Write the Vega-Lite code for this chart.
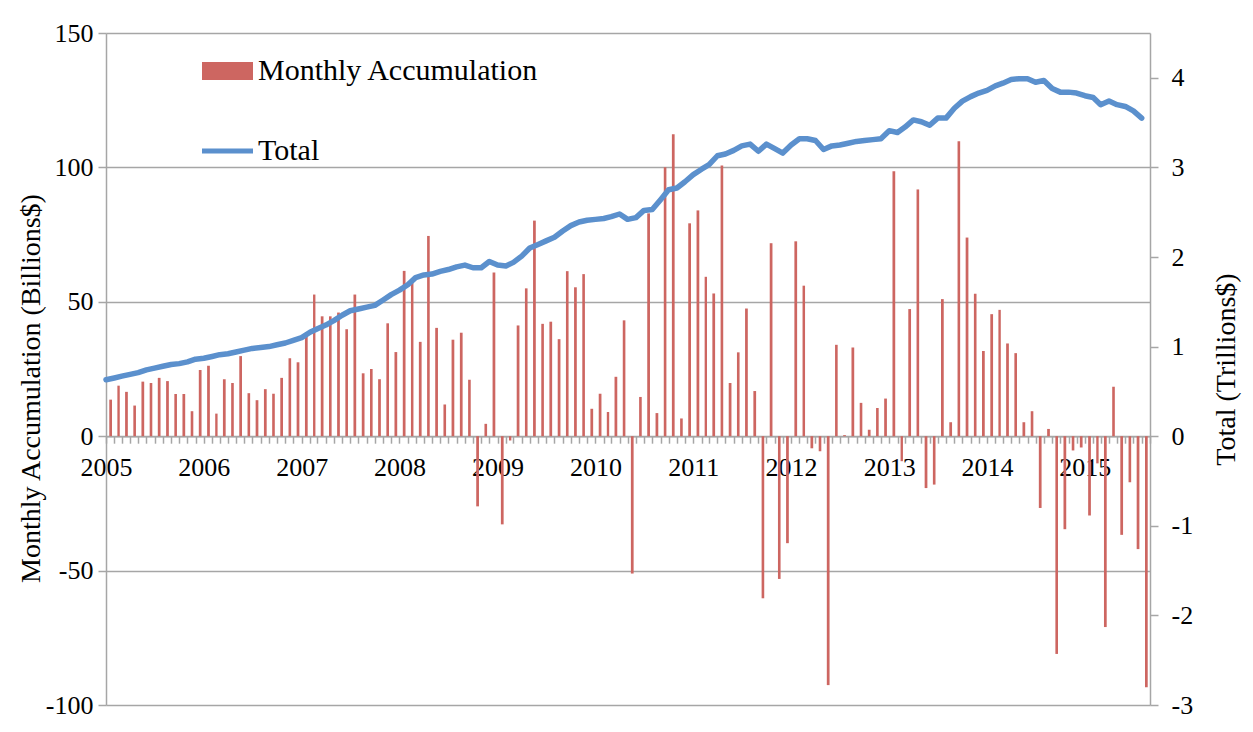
{
  "$schema": "https://vega.github.io/schema/vega-lite/v6.json",
  "width": 1044,
  "height": 672,
  "autosize": "none",
  "padding": {"left": 106, "top": 33, "right": 103, "bottom": 27},
  "background": "white",
  "config": {
    "font": "Liberation Serif",
    "view": {"stroke": null},
    "axis": {"labelFont": "Liberation Serif", "titleFont": "Liberation Serif", "labelColor": "black", "titleColor": "black", "titleFontWeight": "normal"}
  },
  "data": {"values": [
    {"date":"2005-01-01","monthly":13.6,"total":0.63},{"date":"2005-02-01","monthly":18.8,"total":0.65},{"date":"2005-03-01","monthly":16.5,"total":0.67},{"date":"2005-04-01","monthly":11.4,"total":0.69},{"date":"2005-05-01","monthly":20.3,"total":0.71},{"date":"2005-06-01","monthly":19.8,"total":0.74},{"date":"2005-07-01","monthly":21.7,"total":0.76},{"date":"2005-08-01","monthly":20.5,"total":0.78},{"date":"2005-09-01","monthly":15.7,"total":0.80},{"date":"2005-10-01","monthly":15.7,"total":0.81},{"date":"2005-11-01","monthly":9.3,"total":0.83},{"date":"2005-12-01","monthly":24.6,"total":0.86},
    {"date":"2006-01-01","monthly":26.2,"total":0.87},{"date":"2006-02-01","monthly":8.4,"total":0.89},{"date":"2006-03-01","monthly":21.2,"total":0.91},{"date":"2006-04-01","monthly":19.8,"total":0.92},{"date":"2006-05-01","monthly":29.8,"total":0.94},{"date":"2006-06-01","monthly":16.0,"total":0.96},{"date":"2006-07-01","monthly":13.4,"total":0.98},{"date":"2006-08-01","monthly":17.5,"total":0.99},{"date":"2006-09-01","monthly":15.8,"total":1.00},{"date":"2006-10-01","monthly":21.7,"total":1.02},{"date":"2006-11-01","monthly":29.0,"total":1.04},{"date":"2006-12-01","monthly":27.5,"total":1.07},
    {"date":"2007-01-01","monthly":38.3,"total":1.10},{"date":"2007-02-01","monthly":52.7,"total":1.16},{"date":"2007-03-01","monthly":44.6,"total":1.20},{"date":"2007-04-01","monthly":44.6,"total":1.24},{"date":"2007-05-01","monthly":46.0,"total":1.29},{"date":"2007-06-01","monthly":39.8,"total":1.35},{"date":"2007-07-01","monthly":52.7,"total":1.40},{"date":"2007-08-01","monthly":23.4,"total":1.42},{"date":"2007-09-01","monthly":25.0,"total":1.44},{"date":"2007-10-01","monthly":21.2,"total":1.46},{"date":"2007-11-01","monthly":42.0,"total":1.52},{"date":"2007-12-01","monthly":31.3,"total":1.58},
    {"date":"2008-01-01","monthly":61.5,"total":1.63},{"date":"2008-02-01","monthly":57.2,"total":1.69},{"date":"2008-03-01","monthly":35.1,"total":1.77},{"date":"2008-04-01","monthly":74.5,"total":1.80},{"date":"2008-05-01","monthly":40.3,"total":1.81},{"date":"2008-06-01","monthly":11.8,"total":1.84},{"date":"2008-07-01","monthly":35.9,"total":1.86},{"date":"2008-08-01","monthly":38.5,"total":1.89},{"date":"2008-09-01","monthly":21.0,"total":1.91},{"date":"2008-10-01","monthly":-26.1,"total":1.88},{"date":"2008-11-01","monthly":4.6,"total":1.88},{"date":"2008-12-01","monthly":60.9,"total":1.95},
    {"date":"2009-01-01","monthly":-32.8,"total":1.91},{"date":"2009-02-01","monthly":-1.6,"total":1.90},{"date":"2009-03-01","monthly":41.2,"total":1.94},{"date":"2009-04-01","monthly":55.0,"total":2.01},{"date":"2009-05-01","monthly":80.2,"total":2.10},{"date":"2009-06-01","monthly":41.8,"total":2.14},{"date":"2009-07-01","monthly":42.6,"total":2.18},{"date":"2009-08-01","monthly":36.1,"total":2.22},{"date":"2009-09-01","monthly":61.4,"total":2.29},{"date":"2009-10-01","monthly":55.4,"total":2.35},{"date":"2009-11-01","monthly":60.3,"total":2.39},{"date":"2009-12-01","monthly":10.2,"total":2.41},
    {"date":"2010-01-01","monthly":15.8,"total":2.42},{"date":"2010-02-01","monthly":9.0,"total":2.43},{"date":"2010-03-01","monthly":22.1,"total":2.45},{"date":"2010-04-01","monthly":43.1,"total":2.48},{"date":"2010-05-01","monthly":-51.1,"total":2.42},{"date":"2010-06-01","monthly":14.6,"total":2.44},{"date":"2010-07-01","monthly":82.9,"total":2.52},{"date":"2010-08-01","monthly":8.6,"total":2.53},{"date":"2010-09-01","monthly":100.1,"total":2.64},{"date":"2010-10-01","monthly":112.3,"total":2.75},{"date":"2010-11-01","monthly":6.6,"total":2.77},{"date":"2010-12-01","monthly":79.2,"total":2.84},
    {"date":"2011-01-01","monthly":84.0,"total":2.92},{"date":"2011-02-01","monthly":59.3,"total":2.98},{"date":"2011-03-01","monthly":53.1,"total":3.03},{"date":"2011-04-01","monthly":100.7,"total":3.13},{"date":"2011-05-01","monthly":19.8,"total":3.15},{"date":"2011-06-01","monthly":31.2,"total":3.19},{"date":"2011-07-01","monthly":47.5,"total":3.24},{"date":"2011-08-01","monthly":16.8,"total":3.26},{"date":"2011-09-01","monthly":-60.3,"total":3.18},{"date":"2011-10-01","monthly":71.8,"total":3.26},{"date":"2011-11-01","monthly":-53.1,"total":3.21},{"date":"2011-12-01","monthly":-39.8,"total":3.16},
    {"date":"2012-01-01","monthly":72.5,"total":3.25},{"date":"2012-02-01","monthly":56.0,"total":3.32},{"date":"2012-03-01","monthly":-4.5,"total":3.32},{"date":"2012-04-01","monthly":-5.6,"total":3.30},{"date":"2012-05-01","monthly":-92.6,"total":3.20},{"date":"2012-06-01","monthly":34.0,"total":3.24},{"date":"2012-07-01","monthly":0.4,"total":3.25},{"date":"2012-08-01","monthly":33.0,"total":3.27},{"date":"2012-09-01","monthly":12.4,"total":3.29},{"date":"2012-10-01","monthly":2.4,"total":3.30},{"date":"2012-11-01","monthly":10.5,"total":3.31},{"date":"2012-12-01","monthly":14.0,"total":3.32},
    {"date":"2013-01-01","monthly":98.6,"total":3.41},{"date":"2013-02-01","monthly":-9.3,"total":3.39},{"date":"2013-03-01","monthly":47.3,"total":3.45},{"date":"2013-04-01","monthly":91.8,"total":3.53},{"date":"2013-05-01","monthly":-19.3,"total":3.51},{"date":"2013-06-01","monthly":-18.0,"total":3.47},{"date":"2013-07-01","monthly":51.0,"total":3.55},{"date":"2013-08-01","monthly":5.2,"total":3.55},{"date":"2013-09-01","monthly":109.7,"total":3.66},{"date":"2013-10-01","monthly":73.9,"total":3.74},{"date":"2013-11-01","monthly":53.0,"total":3.79},{"date":"2013-12-01","monthly":31.7,"total":3.83},
    {"date":"2014-01-01","monthly":45.4,"total":3.86},{"date":"2014-02-01","monthly":47.0,"total":3.91},{"date":"2014-03-01","monthly":34.5,"total":3.94},{"date":"2014-04-01","monthly":30.9,"total":3.98},{"date":"2014-05-01","monthly":5.2,"total":3.99},{"date":"2014-06-01","monthly":9.3,"total":3.99},{"date":"2014-07-01","monthly":-26.7,"total":3.95},{"date":"2014-08-01","monthly":2.7,"total":3.97},{"date":"2014-09-01","monthly":-81.0,"total":3.88},{"date":"2014-10-01","monthly":-34.6,"total":3.84},{"date":"2014-11-01","monthly":-5.3,"total":3.84},{"date":"2014-12-01","monthly":-4.2,"total":3.83},
    {"date":"2015-01-01","monthly":-29.5,"total":3.80},{"date":"2015-02-01","monthly":-10.1,"total":3.78},{"date":"2015-03-01","monthly":-71.0,"total":3.70},{"date":"2015-04-01","monthly":18.4,"total":3.74},{"date":"2015-05-01","monthly":-36.7,"total":3.70},{"date":"2015-06-01","monthly":-17.1,"total":3.68},{"date":"2015-07-01","monthly":-42.0,"total":3.63},{"date":"2015-08-01","monthly":-93.4,"total":3.55}
  ]},
  "encoding": {
    "x": {
      "field": "date", "timeUnit": "utcyearmonth", "type": "temporal",
      "scale": {"domain": [{"year": 2005, "month": 1, "date": 1, "utc": true}, {"year": 2015, "month": 9, "date": 1, "utc": true}], "nice": false},
      "axis": {
        "orient": "bottom", "offset": -268.8, "title": null, "grid": false,
        "tickCount": {"interval": "month", "step": 1},
        "labelExpr": "utcmonth(datum.value) == 0 ? utcFormat(datum.value, '%Y') : ''",
        "labelOverlap": false, "labelFlush": false, "labelBound": false,
        "labelFontSize": 26, "labelPadding": 11, "labelAngle": 0,
        "domainColor": "#a6a6a6", "domainWidth": 1.5,
        "tickColor": "#a6a6a6", "tickWidth": 1.5, "tickSize": 7
      }
    }
  },
  "layer": [
    {
      "mark": {"type": "bar", "width": {"band": 0.45}},
      "encoding": {
        "y": {
          "field": "monthly", "type": "quantitative",
          "scale": {"domain": [-100, 150], "nice": false, "zero": false},
          "axis": {
            "values": [-100, -50, 0, 50, 100, 150],
            "labelExpr": "'' + datum.value",
            "title": "Monthly Accumulation (Billions$)",
            "titleFontSize": 28, "titlePadding": 0, "titleY": 355,
            "labelFontSize": 26, "labelPadding": 5,
            "grid": true, "gridColor": "#a6a6a6", "gridWidth": 1.5,
            "domainColor": "#a6a6a6", "domainWidth": 1.5,
            "tickColor": "#a6a6a6", "tickWidth": 1.5, "tickSize": 8
          }
        },
        "color": {
          "datum": "Monthly Accumulation", "type": "nominal",
          "scale": {"domain": ["Monthly Accumulation", "Total"], "range": ["#cd6661", "#5b90cd"]},
          "legend": {
            "orient": "none", "legendX": 96, "legendY": 12.5, "title": null,
            "symbolSize": 2601, "labelFontSize": 30, "labelFont": "Liberation Serif", "labelColor": "black",
            "labelLimit": 0, "labelOffset": 5, "rowPadding": 39, "direction": "vertical",
            "encode": {"symbols": {"update": {
              "shape": {"signal": "datum.value == 'Total' ? 'M-1,-0.1L1,-0.1L1,0.1L-1,0.1Z' : 'M-1,-0.353L1,-0.353L1,0.353L-1,0.353Z'"},
              "fill": {"signal": "datum.value == 'Total' ? '#5b90cd' : '#cd6661'"},
              "stroke": {"value": "transparent"},
              "strokeWidth": {"value": 0},
              "opacity": {"value": 1}
            }}}
          }
        }
      }
    },
    {
      "mark": {"type": "line", "strokeWidth": 5.5, "timeUnitBandPosition": 0.5, "strokeJoin": "round", "strokeCap": "round"},
      "encoding": {
        "y": {
          "field": "total", "type": "quantitative",
          "scale": {"domain": [-3, 4.5], "nice": false, "zero": false},
          "axis": {
            "orient": "right",
            "values": [-3, -2, -1, 0, 1, 2, 3, 4],
            "labelExpr": "'' + datum.value",
            "title": "Total (Trillions$)",
            "titleFontSize": 28, "titlePadding": 20, "titleAngle": 270, "titleBaseline": "top",
            "labelFontSize": 26, "labelPadding": 13,
            "grid": false,
            "domainColor": "#a6a6a6", "domainWidth": 1.5,
            "tickColor": "#a6a6a6", "tickWidth": 1.5, "tickSize": 8
          }
        },
        "color": {"datum": "Total", "type": "nominal"}
      }
    }
  ],
  "resolve": {"scale": {"y": "independent"}}
}
